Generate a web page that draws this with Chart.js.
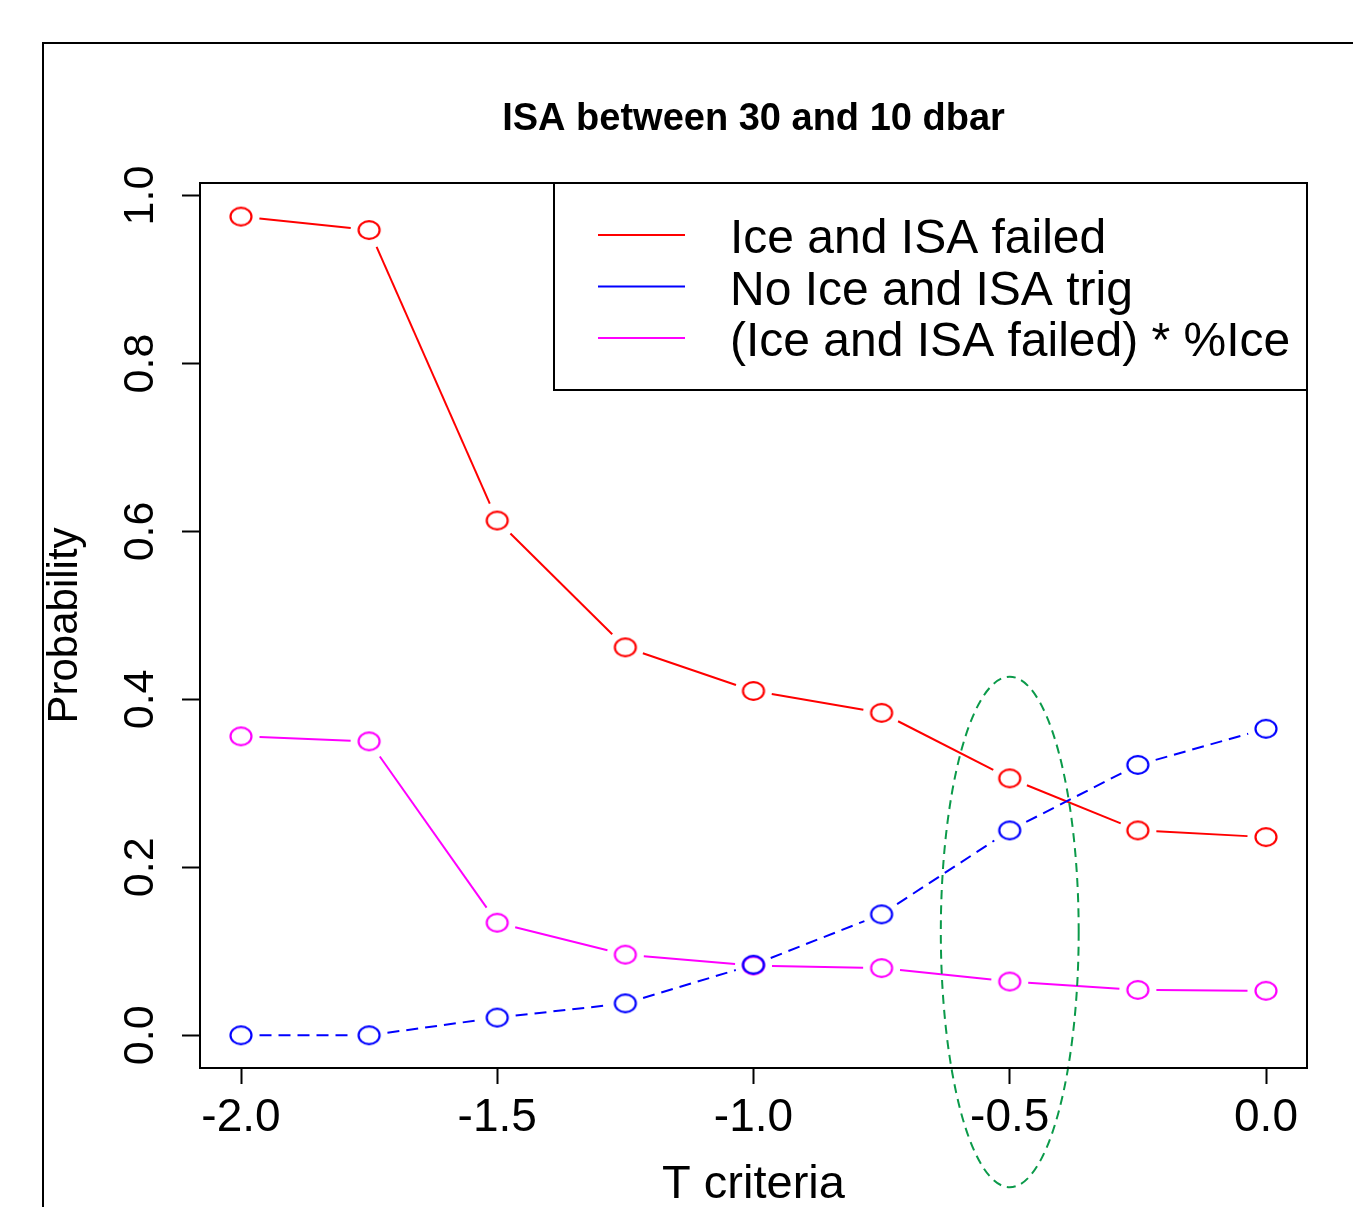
<!DOCTYPE html>
<html>
<head>
<meta charset="utf-8">
<title>ISA between 30 and 10 dbar</title>
<script src="https://cdn.jsdelivr.net/npm/chart.js@4.4.1/dist/chart.umd.min.js"></script>
<style>
  html, body { margin: 0; padding: 0; background: #fff; }
  #wrap { position: relative; width: 1353px; height: 1207px; }
</style>
</head>
<body>
<div id="wrap"><canvas id="probChart" width="1353" height="1207"></canvas></div>
<script>
// ------------------ DONNEES ------------------
// T criteria (x axis)
const tCriteria = [-2.0, -1.75, -1.5, -1.25, -1.0, -0.75, -0.5, -0.25, 0.0];

// probabilities for each criterion
const iceIsaFailed   = [0.975, 0.959, 0.613, 0.462, 0.410, 0.384, 0.306, 0.244, 0.236];
const noIceIsaTrig   = [0.000, 0.000, 0.021, 0.038, 0.084, 0.144, 0.244, 0.322, 0.365];
const failedTimesIce = [0.356, 0.350, 0.134, 0.096, 0.083, 0.080, 0.064, 0.054, 0.053];

const seriesLabels = ['Ice and ISA failed', 'No Ice and ISA trig', '(Ice and ISA failed) * %Ice'];

const xTicks = [-2.0, -1.5, -1.0, -0.5, 0.0];
const yTicks = [0.0, 0.2, 0.4, 0.6, 0.8, 1.0];

// dashed ellipse around T = -0.5 (data units)
const highlightCenter = { x: -0.5, y: 0.123 };
const highlightRadius = { x: 0.1345, y: 0.304 };

// ------------------ STYLE ------------------
const FONT = "'Liberation Sans', Arial, Helvetica, sans-serif";
const POINT_GAP = 18.5;   // lines stop short of the circles (type="b" look)

// hollow ring used as point marker (slightly wider than tall)
function ringImage(color) {
    const c = document.createElement('canvas');
    c.width = 28;
    c.height = 24;
    const g = c.getContext('2d');
    g.strokeStyle = color;
    g.lineWidth = 2.2;
    g.beginPath();
    g.ellipse(14, 12, 10.5, 8.8, 0, 0, Math.PI * 2);
    g.stroke();
    return c;
}

function toPoints(values) {
    return tCriteria.map((t, i) => ({ x: t, y: values[i] }));
}

// Segments between points, cut around each marker
const gappedLines = {
    id: 'gappedLines',
    beforeDatasetsDraw(chart) {
        const ctx = chart.ctx;
        const area = chart.chartArea;
        ctx.save();
        ctx.beginPath();
        ctx.rect(area.left, area.top, area.right - area.left, area.bottom - area.top);
        ctx.clip();
        chart.data.datasets.forEach((ds, i) => {
            const pts = chart.getDatasetMeta(i).data;
            ctx.strokeStyle = ds.borderColor;
            ctx.lineWidth = 2;
            ctx.setLineDash(ds.segmentDash || []);
            for (let k = 1; k < pts.length; k++) {
                const a = pts[k - 1], b = pts[k];
                const dx = b.x - a.x, dy = b.y - a.y;
                const len = Math.hypot(dx, dy);
                if (len <= 2 * POINT_GAP) continue;
                const ux = dx / len, uy = dy / len;
                ctx.beginPath();
                ctx.moveTo(a.x + ux * POINT_GAP, a.y + uy * POINT_GAP);
                ctx.lineTo(b.x - ux * POINT_GAP, b.y - uy * POINT_GAP);
                ctx.stroke();
            }
        });
        ctx.restore();
    }
};

// Green dashed ellipse, allowed to run past the plot box
const highlightEllipse = {
    id: 'highlightEllipse',
    afterDatasetsDraw(chart) {
        const { ctx, scales: { x, y } } = chart;
        const cx = x.getPixelForValue(highlightCenter.x);
        const cy = y.getPixelForValue(highlightCenter.y);
        const rx = Math.abs(x.getPixelForValue(highlightCenter.x + highlightRadius.x) - cx);
        const ry = Math.abs(y.getPixelForValue(highlightCenter.y + highlightRadius.y) - cy);
        ctx.save();
        ctx.strokeStyle = '#0b9a4a';
        ctx.lineWidth = 2;
        ctx.setLineDash([9, 6]);
        ctx.beginPath();
        ctx.ellipse(cx, cy, rx, ry, 0, 0, Math.PI * 2);
        ctx.stroke();
        ctx.restore();
    }
};

// Box, title, legend and page frame
const decorations = {
    id: 'decorations',
    afterDraw(chart) {
        const ctx = chart.ctx;
        const area = chart.chartArea;
        ctx.save();
        ctx.strokeStyle = '#000';
        ctx.lineWidth = 2;
        ctx.setLineDash([]);

        // plot box
        ctx.strokeRect(area.left, area.top, area.right - area.left, area.bottom - area.top);

        // page frame (top and left edges)
        ctx.beginPath();
        ctx.moveTo(43, chart.height);
        ctx.lineTo(43, 43);
        ctx.lineTo(chart.width, 43);
        ctx.stroke();

        // title
        ctx.fillStyle = '#000';
        ctx.font = "bold 38px " + FONT;
        ctx.textAlign = 'center';
        ctx.textBaseline = 'alphabetic';
        ctx.fillText('ISA between 30 and 10 dbar', (area.left + area.right) / 2, 130);

        // legend
        const boxW = 753, boxH = 207;
        const bx = area.right - boxW, by = area.top;
        ctx.fillStyle = '#fff';
        ctx.fillRect(bx, by, boxW, boxH);
        ctx.strokeRect(bx, by, boxW, boxH);
        ctx.font = "48px " + FONT;
        ctx.textAlign = 'left';
        ctx.textBaseline = 'middle';
        chart.data.datasets.forEach((ds, i) => {
            const ry = by + 52 + i * 51.5;
            ctx.strokeStyle = ds.borderColor;
            ctx.beginPath();
            ctx.moveTo(bx + 44, ry);
            ctx.lineTo(bx + 131, ry);
            ctx.stroke();
            ctx.fillStyle = '#000';
            ctx.fillText(ds.label, bx + 176, ry + 5);
        });
        ctx.restore();
    }
};

// ------------------ GRAPHIQUE ------------------
const colors = ['#ff0000', '#0000ff', '#ff00ff'];
const series = [iceIsaFailed, noIceIsaTrig, failedTimesIce];
const dashes = [[], [12, 7], []];

const ctx = document.getElementById('probChart').getContext('2d');
new Chart(ctx, {
    type: 'line',
    data: {
        datasets: series.map((vals, i) => ({
            label: seriesLabels[i],
            data: toPoints(vals),
            borderColor: colors[i],
            segmentDash: dashes[i],
            showLine: false,
            pointStyle: ringImage(colors[i]),
            pointRadius: 10,
            pointHoverRadius: 10
        }))
    },
    options: {
        responsive: false,
        animation: false,
        events: [],
        layout: { padding: { top: 183, right: 46, left: 0, bottom: 0 } },
        plugins: {
            legend: { display: false },
            tooltip: { enabled: false },
            title: { display: false }
        },
        scales: {
            x: {
                type: 'linear',
                min: -2.08,
                max: 0.08,
                afterBuildTicks: axis => { axis.ticks = xTicks.map(v => ({ value: v })); },
                afterFit: axis => { axis.height = 139; },
                grid: {
                    drawOnChartArea: false,
                    drawTicks: true,
                    tickLength: 16,
                    tickWidth: 2,
                    tickColor: '#000',
                    color: '#000'
                },
                border: { display: true, color: '#000', width: 2 },
                ticks: {
                    color: '#000',
                    padding: 7,
                    autoSkip: false,
                    maxRotation: 0,
                    font: { family: FONT, size: 46 },
                    callback: v => Number(v).toFixed(1)
                },
                title: {
                    display: true,
                    text: 'T criteria',
                    color: '#000',
                    font: { family: FONT, size: 47, lineHeight: 1 },
                    padding: { top: 0, bottom: -2 }
                }
            },
            y: {
                type: 'linear',
                min: -0.039,
                max: 1.015,
                afterBuildTicks: axis => { axis.ticks = yTicks.map(v => ({ value: v })); },
                afterFit: axis => { axis.width = 200; },
                grid: {
                    drawOnChartArea: false,
                    drawTicks: true,
                    tickLength: 18,
                    tickWidth: 2,
                    tickColor: '#000',
                    color: '#000'
                },
                border: { display: true, color: '#000', width: 2 },
                ticks: {
                    color: '#000',
                    padding: 11,
                    autoSkip: false,
                    minRotation: 90,
                    maxRotation: 90,
                    crossAlign: 'center',
                    font: { family: FONT, size: 43 },
                    callback: v => Number(v).toFixed(1)
                },
                title: {
                    display: true,
                    text: 'Probability',
                    color: '#000',
                    font: { family: FONT, size: 42, lineHeight: 1 },
                    padding: { top: 44, bottom: 0 }
                }
            }
        }
    },
    plugins: [gappedLines, highlightEllipse, decorations]
});
</script>
</body>
</html>
